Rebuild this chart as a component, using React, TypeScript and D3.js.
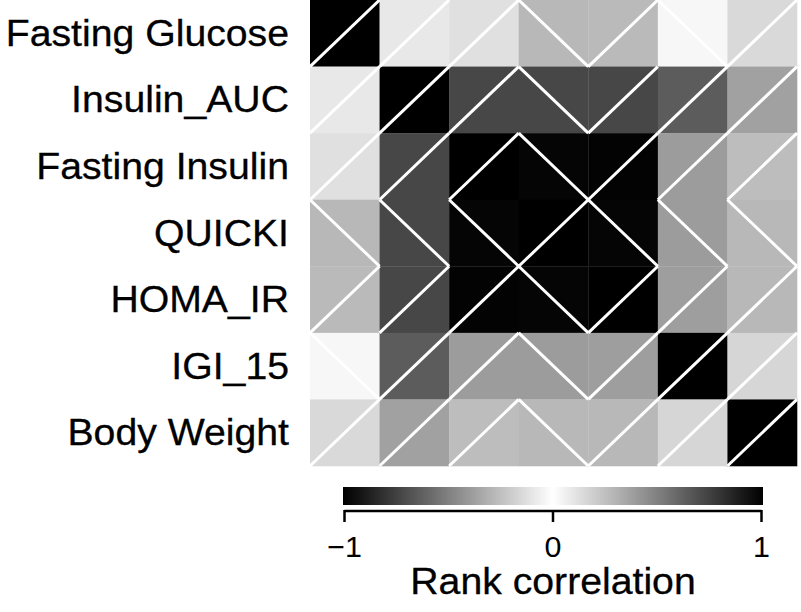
import React from "react";
import * as d3 from "d3";

const variables = [
  "Fasting Glucose",
  "Insulin_AUC",
  "Fasting Insulin",
  "QUICKI",
  "HOMA_IR",
  "IGI_15",
  "Body Weight",
];

// rank correlations (row-major, symmetric)
const rowFastingGlucose = [1, 0.09, 0.12, -0.28, 0.27, -0.03, 0.15];
const rowInsulinAUC = [0.09, 1, 0.72, -0.72, 0.72, 0.64, 0.37];
const rowFastingInsulin = [0.12, 0.72, 1, -0.98, 0.99, 0.39, 0.26];
const rowQUICKI = [-0.28, -0.72, -0.98, 1, -0.98, -0.39, -0.28];
const rowHOMA = [0.27, 0.72, 0.99, -0.98, 1, 0.38, 0.28];
const rowIGI = [-0.03, 0.64, 0.39, -0.39, 0.38, 1, 0.16];
const rowBodyWeight = [0.15, 0.37, 0.26, -0.28, 0.28, 0.16, 1];

const matrix = [
  rowFastingGlucose,
  rowInsulinAUC,
  rowFastingInsulin,
  rowQUICKI,
  rowHOMA,
  rowIGI,
  rowBodyWeight,
];

const colorTicks = [-1, 0, 1];
const legendTitle = "Rank correlation";

const W = 801;
const H = 612;
const gridLeft = 310;
const gridRight = 797;
const gridTop = 0;
const gridBottom = 466;
const barLeft = 343;
const barRight = 763;

export default function App() {
  const x = d3.scaleBand<number>().domain(d3.range(variables.length)).range([gridLeft, gridRight]);
  const y = d3.scaleBand<number>().domain(d3.range(variables.length)).range([gridTop, gridBottom]);
  const color = d3.scaleLinear<string>().domain([-1, 0, 1]).range(["#000000", "#ffffff", "#000000"]);
  const legX = d3.scaleLinear().domain([-1, 1]).range([barLeft + 1.5, barRight - 1.5]);
  const stops = d3.range(-1, 1.0001, 0.1);

  const cells: React.ReactNode[] = [];
  const lines: React.ReactNode[] = [];
  matrix.forEach((row, i) => {
    row.forEach((v, j) => {
      const x0 = x(j)!;
      const y0 = y(i)!;
      const w = x.bandwidth();
      const h = y.bandwidth();
      cells.push(
        <rect key={`c${i}-${j}`} x={x0} y={y0} width={w + 0.3} height={h + 0.3} fill={color(v)} />
      );
      const pos = v >= 0;
      lines.push(
        <line
          key={`l${i}-${j}`}
          x1={x0}
          y1={pos ? y0 + h : y0}
          x2={x0 + w}
          y2={pos ? y0 : y0 + h}
          stroke="#ffffff"
          strokeWidth={3}
        />
      );
    });
  });

  return (
    <svg
      width={W}
      height={H}
      style={{ position: "absolute", left: 0, top: 0, background: "#fff" }}
      fontFamily="'Liberation Sans', Arial, sans-serif"
    >
      <defs>
        <linearGradient id="cbar" x1="0" x2="1" y1="0" y2="0">
          {stops.map((s, k) => (
            <stop key={k} offset={(s + 1) / 2} stopColor={color(s)} />
          ))}
        </linearGradient>
      </defs>
      <rect x={0} y={0} width={W} height={H} fill="#fff" />
      {cells}
      {lines}
      {variables.map((name, i) => (
        <text
          key={name}
          transform={`translate(289,${y(i)! + y.bandwidth() / 2 + 12.5}) scale(1.06,1)`}
          textAnchor="end"
          fontSize={37}
          fill="#000"
          stroke="#000"
          strokeWidth={0.3}
        >
          {name}
        </text>
      ))}
      <rect x={barLeft} y={487} width={barRight - barLeft} height={18} fill="url(#cbar)" />
      <line x1={legX(-1)} x2={legX(1)} y1={511} y2={511} stroke="#000" strokeWidth={2.5} />
      {colorTicks.map((t) => (
        <g key={t}>
          <line x1={legX(t)} x2={legX(t)} y1={510} y2={522} stroke="#000" strokeWidth={2.5} />
          <text
            transform={`translate(${legX(t)},557) scale(1.05,1)`}
            textAnchor="middle"
            fontSize={29}
            fill="#000"
          >
            {t < 0 ? `\u2212${Math.abs(t)}` : `${t}`}
          </text>
        </g>
      ))}
      <text
        transform={`translate(553,594) scale(1.06,1)`}
        textAnchor="middle"
        fontSize={37}
        fill="#000"
        stroke="#000"
        strokeWidth={0.3}
      >
        {legendTitle}
      </text>
    </svg>
  );
}
